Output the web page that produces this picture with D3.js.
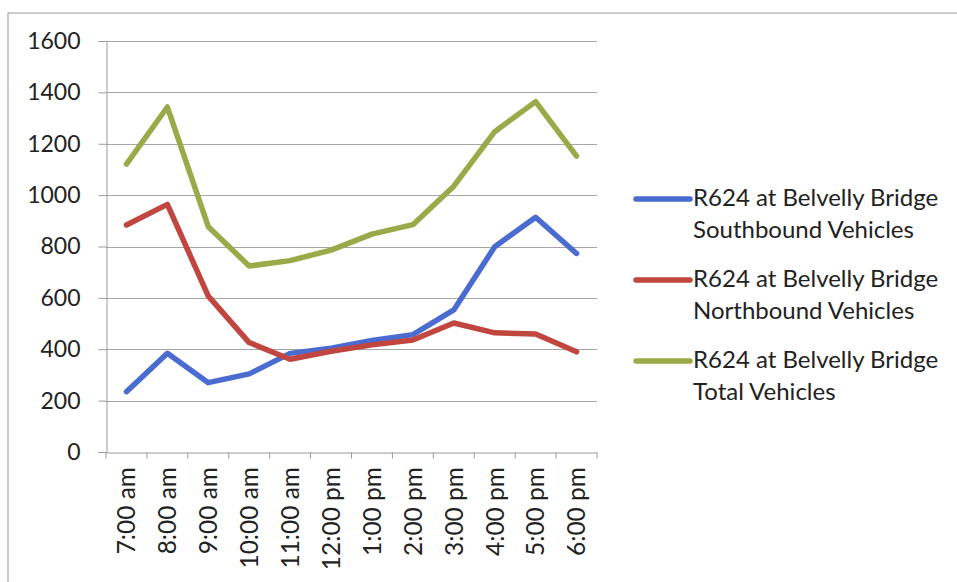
<!DOCTYPE html>
<html><head><meta charset="utf-8">
<script src="https://cdn.jsdelivr.net/npm/d3@7"></script>
<style>html,body{margin:0;padding:0;background:#fff;}svg{display:block;}</style>
</head><body>
<svg id="chart" width="957" height="582"></svg>
<script>
const categories = ["7:00 am","8:00 am","9:00 am","10:00 am","11:00 am","12:00 pm","1:00 pm","2:00 pm","3:00 pm","4:00 pm","5:00 pm","6:00 pm"];
const southbound = [235,384,270,304,384,404,434,457,553,799,914,773];
const northbound = [884,964,607,426,361,392,417,436,502,464,459,390];
const total = [1121,1343,877,724,745,786,848,885,1035,1247,1364,1152];
const yTicks = [0,200,400,600,800,1000,1200,1400,1600];
const seriesNames = [
  ["R624 at Belvelly Bridge","Southbound Vehicles"],
  ["R624 at Belvelly Bridge","Northbound Vehicles"],
  ["R624 at Belvelly Bridge","Total Vehicles"]
];
const seriesColors = ["#4a6bd0","#c0463f","#9aaa48"];
const seriesData = [southbound, northbound, total];

const svg = d3.select("#chart");
const font = "Lato, 'Noto Sans', sans-serif";
const pLeft = 106, pRight = 597, pTop = 41, pBottom = 452;

svg.append("rect").attr("x",8).attr("y",13).attr("width",1000).attr("height",600)
  .attr("fill","none").attr("stroke","#9a9a9a").attr("stroke-width",1);

const x = d3.scaleBand().domain(categories).range([pLeft,pRight]);
const y = d3.scaleLinear().domain([0,1600]).range([pBottom,pTop]);

// gridlines
svg.append("g").selectAll("line").data(yTicks.filter(d=>d>0)).join("line")
  .attr("x1",pLeft).attr("x2",pRight)
  .attr("y1",d=>Math.round(y(d))+0.5).attr("y2",d=>Math.round(y(d))+0.5)
  .attr("stroke","#a6a6a6").attr("stroke-width",1);

// y axis
const yAxis = svg.append("g").attr("transform",`translate(${pLeft+0.5},0)`)
  .call(d3.axisLeft(y).tickValues(yTicks).tickSize(8).tickPadding(18).tickFormat(d3.format("d")));
yAxis.selectAll("path,line").attr("stroke","#9a9a9a");
yAxis.selectAll("text").attr("font-family",font).attr("font-size",23).attr("fill","#222");

// x axis
const xAxis = svg.append("g").attr("transform",`translate(0,${pBottom+0.5})`)
  .call(d3.axisBottom(x).tickSizeOuter(0).tickFormat(""));
xAxis.select(".domain").attr("stroke","#9a9a9a");
xAxis.selectAll(".tick").remove();
xAxis.append("g").selectAll("line").data(categories.map((c,i)=>pLeft + i*x.step()).concat([pRight])).join("line")
  .attr("x1",d=>d).attr("x2",d=>d).attr("y1",0).attr("y2",6).attr("stroke","#9a9a9a");

svg.append("g").selectAll("text").data(categories).join("text")
  .attr("transform",d=>`translate(${x(d)+x.bandwidth()/2},${pBottom+15}) rotate(-90)`)
  .attr("text-anchor","end").attr("dy","0.36em")
  .attr("font-family",font).attr("font-size",24.5).attr("fill","#222")
  .text(d=>d);

// lines
const line = d3.line().x((d,i)=>x(categories[i])+x.bandwidth()/2).y(d=>y(d));
svg.append("g").selectAll("path").data(seriesData).join("path")
  .attr("d",d=>line(d)).attr("fill","none")
  .attr("stroke",(d,i)=>seriesColors[i]).attr("stroke-width",5.5)
  .attr("stroke-linejoin","round").attr("stroke-linecap","round");

// legend
const lg = svg.append("g");
const legY = [199,280,361];
seriesNames.forEach((nm,i)=>{
  lg.append("line").attr("x1",636).attr("x2",690).attr("y1",legY[i]).attr("y2",legY[i])
    .attr("stroke",seriesColors[i]).attr("stroke-width",5.5).attr("stroke-linecap","round");
  lg.append("text").attr("x",693).attr("y",legY[i]+7)
    .attr("font-family",font).attr("font-size",24).attr("fill","#222").text(nm[0]);
  lg.append("text").attr("x",693).attr("y",legY[i]+39)
    .attr("font-family",font).attr("font-size",24).attr("fill","#222").text(nm[1]);
});
</script>
</body></html>
